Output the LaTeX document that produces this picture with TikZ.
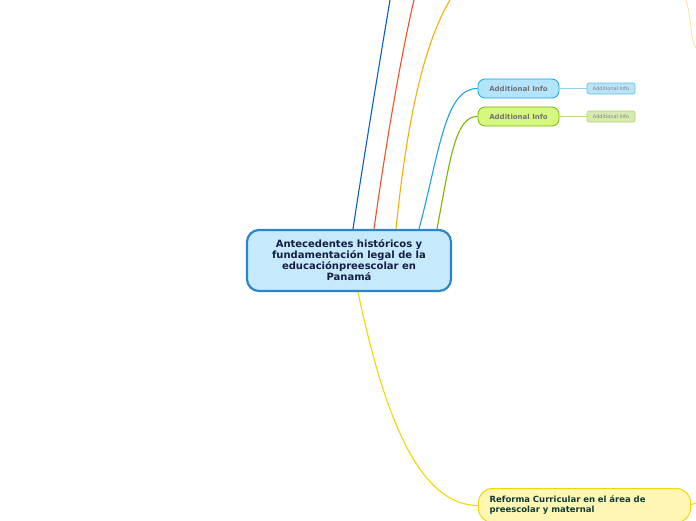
\documentclass[tikz,border=0pt]{standalone}
\usepackage{fontspec}
\setmainfont{DejaVu Sans}
\begin{document}
\begin{tikzpicture}[x=1pt,y=-1pt,
 line/.style={line width=1.1pt},
 info/.style={draw=#1!70!black,line width=0.8pt,rounded corners=7pt,minimum width=81pt,minimum height=19pt,inner sep=0pt,font=\bfseries\fontsize{7}{8}\selectfont,text=black!55},
 small/.style={draw=#1,line width=0.6pt,rounded corners=2pt,minimum width=48pt,minimum height=11pt,inner sep=0pt,font=\fontsize{5}{6}\selectfont,text=black!50}]
\useasboundingbox (0,0) rectangle (696,520);
\definecolor{cblue}{HTML}{0A5FCC}\definecolor{cred}{HTML}{F0502A}\definecolor{corange}{HTML}{F6B100}
\definecolor{ccyan}{HTML}{1AA3E0}\definecolor{cgreen}{HTML}{7AB800}\definecolor{cyel}{HTML}{F0D800}
\node[draw={rgb,255:red,42;green,134;blue,200},line width=2.2pt,fill={rgb,255:red,198;green,233;blue,251},rounded corners=12pt,minimum width=204pt,minimum height=61pt,align=center,text={rgb,255:red,20;green,30;blue,70},font=\bfseries\fontsize{10}{11}\selectfont] (c) at (349,260.5) {Antecedentes históricos y\\fundamentación legal de la\\educaciónpreescolar en\\Panamá};
\node[info=ccyan,fill={rgb,255:red,178;green,228;blue,252},draw=ccyan] (a1) at (518.5,88.5) {Additional Info};
\node[info=cgreen,fill={rgb,255:red,214;green,248;blue,128},draw=cgreen] (a2) at (518.5,116.5) {Additional Info};
\node[small=ccyan!70,fill=ccyan!30] (s1) at (611,88.5) {Additional info};
\node[small=cgreen!60,fill=cgreen!30] (s2) at (611,116.5) {Additional info};
\node[draw=cyel,line width=1pt,fill={rgb,255:red,255;green,246;blue,180},rounded corners=14pt,minimum width=212pt,minimum height=34pt,anchor=north west,align=left,text={rgb,255:red,15;green,60;blue,50},font=\bfseries\fontsize{8.5}{10}\selectfont,text width=190pt,inner xsep=10pt] (r) at (478,488) {\raisebox{0pt}{Reforma Curricular en el área de}\\preescolar y maternal};
\coordinate (tb) at (390,0);\coordinate (tr) at (414,0);\coordinate (to) at (450,0);
\draw[line,cblue] (353,229) .. controls (365,150) and (380,60) .. (tb);
\draw[line,cred] (374,229) .. controls (385,150) and (400,60) .. (tr);
\draw[line,corange] (396,229) .. controls (405,140) and (420,50) .. (to);
\draw[line,ccyan] (419,229) .. controls (440,150) and (445,88) .. (a1.west);
\draw[line,cgreen] (437,229) .. controls (450,160) and (455,116) .. (a2.west);
\draw[line,cyel] (358,292) .. controls (385,420) and (420,505) .. (r.west);
\draw[ccyan!50,line width=0.6pt] (a1.east) -- (s1.west);
\draw[cgreen!50,line width=0.6pt] (a2.east) -- (s2.west);
\draw[corange!40,line width=0.8pt] (686,0) .. controls (692,20) and (690,40) .. (696,48);
\draw[cyel,line width=1pt] (690,505) -- (696,503);
\end{tikzpicture}
\end{document}
